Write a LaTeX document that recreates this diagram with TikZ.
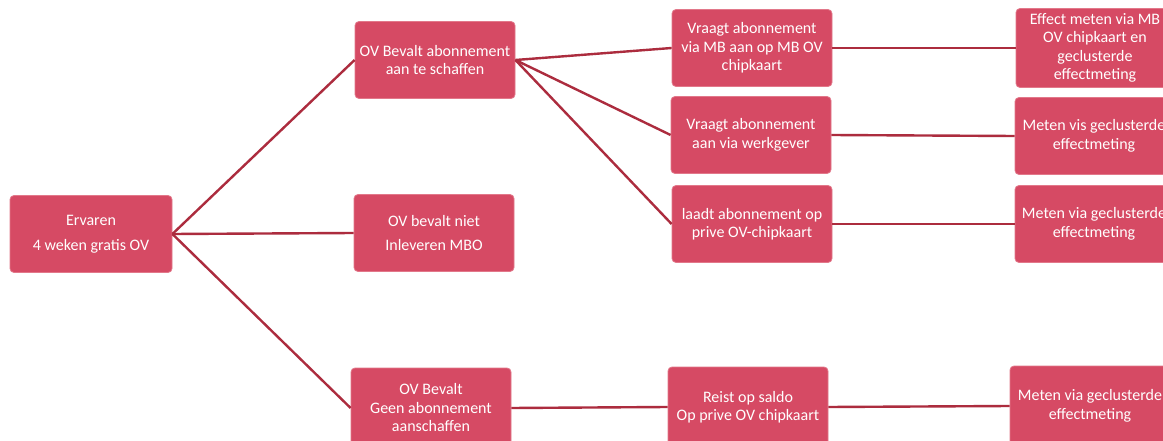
\documentclass[tikz,border=0pt]{standalone}
\usepackage{fontspec}
\setmainfont{Carlito}
\definecolor{boxfill}{RGB}{214,74,100}
\definecolor{boxedge}{RGB}{226,120,138}
\definecolor{linkred}{RGB}{172,44,62}
\begin{document}
\begin{tikzpicture}[x=1pt,y=-1pt,
  card/.style={rectangle, rounded corners=4pt, fill=boxfill, draw=boxedge, line width=0.8pt,
    text=white, align=center, inner sep=1pt, font=\fontsize{16}{18.5}\selectfont,
    minimum width=160pt, minimum height=77pt},
  link/.style={draw=linkred, line width=2.4pt}]
\clip (0,0) rectangle (1163,441);
\fill[white] (0,0) rectangle (1163,441);

% first level
\node[card, minimum width=162pt] (erv) at (91,234) {Ervaren\\[6pt]4 weken gratis OV};

% second level
\node[card] (ab) at (435,60) {OV Bevalt abonnement\\aan te schaffen};
\node[card] (niet) at (434,233) {OV bevalt niet\\[5pt]Inleveren MBO};
\node[card, minimum height=80pt] (geen) at (431,408) {OV Bevalt\\Geen abonnement\\aanschaffen};

% third level
\node[card] (m1) at (752,48) {Vraagt abonnement\\via MB aan op MB OV\\chipkaart};
\node[card] (m2) at (751,135) {Vraagt abonnement\\aan via werkgever};
\node[card] (m3) at (752,224) {laadt abonnement op\\prive OV-chipkaart};
\node[card, minimum height=80pt] (m4) at (748,407) {Reist op saldo\\Op prive OV chipkaart};

% measurement
\node[card, minimum width=158pt, minimum height=79pt] (r1) at (1095,48) {Effect meten via MB\\OV chipkaart en\\geclusterde\\effectmeting};
\node[card, minimum width=158pt] (r2) at (1094,136) {Meten vis geclusterde\\effectmeting};
\node[card, minimum width=158pt] (r3) at (1094,224) {Meten via geclusterde\\effectmeting};
\node[card, minimum height=80pt] (r4) at (1090,406) {Meten via geclusterde\\effectmeting};

% connectors
\draw[link] (erv.east) -- (ab.west);
\draw[link] (erv.east) -- (niet.west);
\draw[link] (erv.east) -- (geen.west);
\draw[link] (ab.east) -- (m1.west);
\draw[link] (ab.east) -- (m2.west);
\draw[link] (ab.east) -- (m3.west);
\draw[link] (geen.east) -- (m4.west);
\draw[link] (m1.east) -- (r1.west);
\draw[link] (m2.east) -- (r2.west);
\draw[link] (m3.east) -- (r3.west);
\draw[link] (m4.east) -- (r4.west);
\end{tikzpicture}
\end{document}
